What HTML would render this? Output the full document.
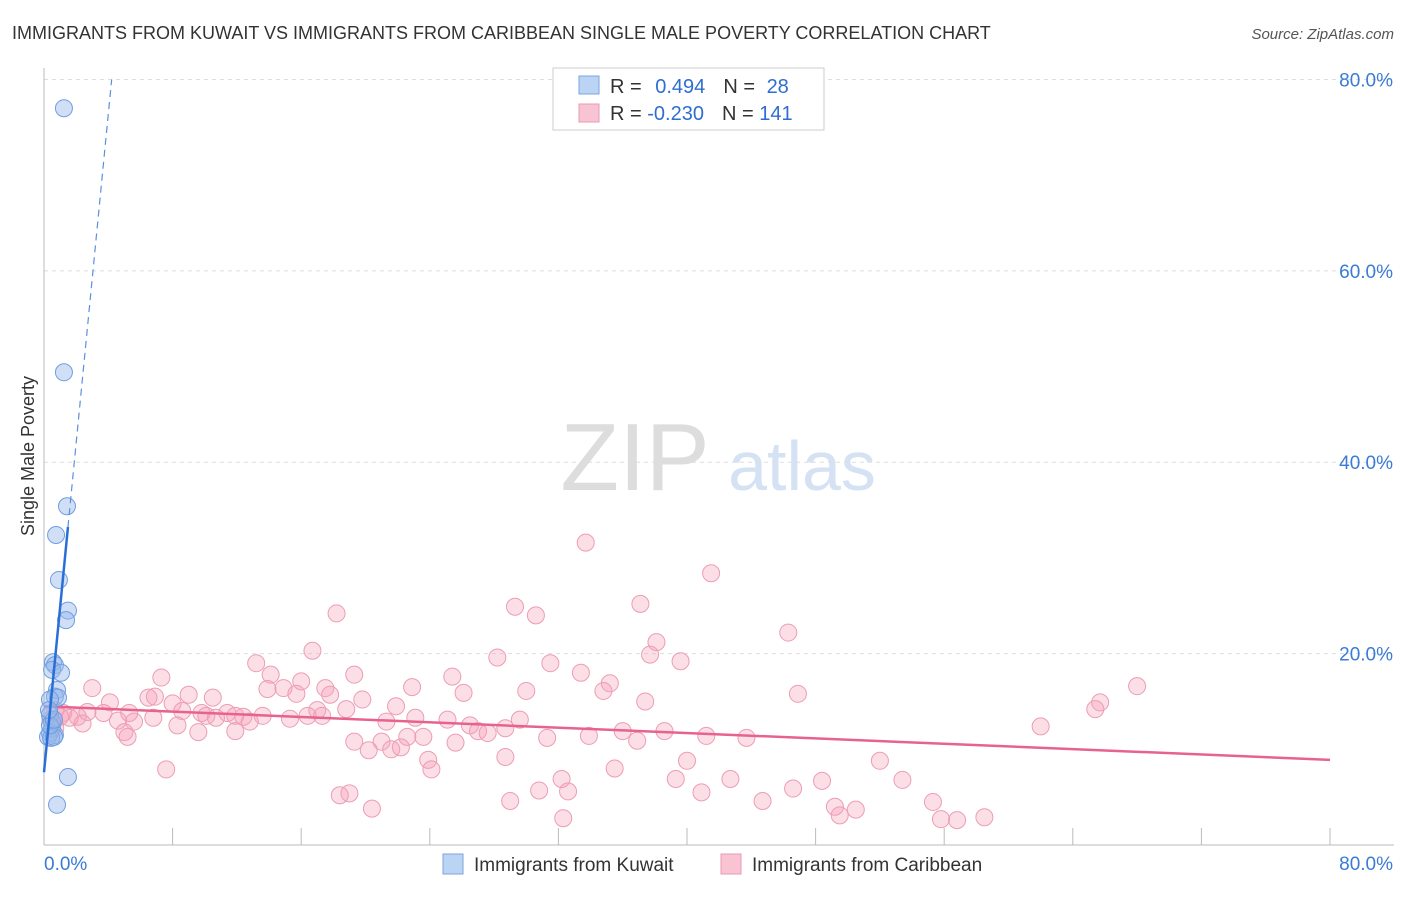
<!DOCTYPE html>
<html><head><meta charset="utf-8"><style>
body{margin:0;background:#fff;font-family:"Liberation Sans",sans-serif}
svg text{font-family:"Liberation Sans",sans-serif}
</style></head><body>
<svg id="c" width="1406" height="892" viewBox="0 0 1406 892">
<text x="12" y="39" font-size="18" fill="#333">IMMIGRANTS FROM KUWAIT VS IMMIGRANTS FROM CARIBBEAN SINGLE MALE POVERTY CORRELATION CHART</text>
<text x="1394" y="39" font-size="15" fill="#555" font-style="italic" text-anchor="end">Source: ZipAtlas.com</text>
<text x="635" y="490" font-size="96" fill="#ddd" font-family="Liberation Serif" text-anchor="middle">ZIP</text>
<text x="802" y="490" font-size="70" fill="#d4e2f4" text-anchor="middle">atlas</text>
<text x="34" y="456" font-size="18" fill="#333" text-anchor="middle" transform="rotate(-90 34 456)">Single Male Poverty</text>
<g id="grid"></g><g id="marks"></g>
<g>
<rect x="553" y="68" width="271" height="62" fill="#fff" stroke="#ccc"/>
<rect x="579" y="76" width="20" height="18" fill="#bcd4f4" stroke="#7aa4e0"/>
<rect x="579" y="104" width="20" height="18" fill="#f8c4d3" stroke="#eb9ab3"/>
<text x="610" y="93" font-size="20" fill="#333">R = <tspan fill="#2f6ed0" dx="8">0.494</tspan><tspan dx="18" fill="#333">N = </tspan><tspan fill="#2f6ed0" dx="6">28</tspan></text>
<text x="610" y="120" font-size="20" fill="#333">R = <tspan fill="#2f6ed0">-0.230</tspan><tspan dx="18" fill="#333">N = </tspan><tspan fill="#2f6ed0">141</tspan></text>
</g>
<g>
<rect x="443" y="854" width="20" height="20" fill="#bcd4f4" stroke="#7aa4e0"/>
<text x="474" y="871" font-size="19" fill="#333">Immigrants from Kuwait</text>
<rect x="721" y="854" width="20" height="20" fill="#f8c4d3" stroke="#eb9ab3"/>
<text x="752" y="871" font-size="19" fill="#333">Immigrants from Caribbean</text>
</g>
</svg>
<script>
const xTicks=[0,80];
const yTicks=[20,40,60,80];
const blueX=[1.24,1.24,1.43,0.75,0.93,1.49,1.37,0.56,0.68,0.5,1.06,0.81,0.68,0.87,0.37,0.37,0.5,0.5,0.37,0.68,0.25,0.44,0.62,1.49,0.81,0.37,0.62,0.31];
const blueY=[77.0,49.4,35.4,32.4,27.7,24.5,23.5,19.1,18.8,18.3,18.0,16.2,15.5,15.4,15.2,13.6,12.9,12.2,11.7,11.5,11.3,11.2,11.3,7.1,4.2,12.5,13.1,14.1];
const pinkX=[33.7,41.5,37.1,29.3,30.6,18.2,38.1,46.3,37.7,39.6,28.2,31.5,16.7,13.2,33.4,25.4,19.3,7.3,14.1,16.0,35.2,22.9,17.5,68.0,30.0,34.8,26.1,46.9,3.0,13.9,14.9,15.7,17.8,9.0,10.5,6.5,6.9,19.8,4.1,37.4,65.7,65.4,8.0,17.0,18.8,21.9,8.6,9.8,11.4,11.9,12.4,13.6,15.3,16.4,17.3,1.2,2.1,2.7,3.7,5.3,6.8,10.1,10.7,21.3,23.1,25.1,29.6,26.5,27.0,27.6,28.7,2.4,4.6,5.6,8.3,9.6,12.8,5.0,5.2,11.9,22.6,23.6,31.3,33.9,36.0,38.6,41.2,43.7,62.0,36.9,19.3,21.0,20.2,21.6,22.2,25.6,28.7,23.9,24.1,40.0,52.0,35.5,7.6,32.2,39.3,42.7,48.4,53.4,30.8,32.6,40.9,46.6,19.0,18.4,29.0,44.7,55.3,49.2,50.5,20.4,49.5,32.3,55.8,56.8,58.5,0.7,0.4,0.7,1.0,1.6];
const pinkY=[31.6,28.4,25.2,24.9,24.0,24.2,21.2,22.2,19.9,19.2,19.6,19.0,20.3,19.0,18.0,17.6,17.8,17.5,17.8,17.1,16.9,16.5,16.4,16.6,16.1,16.1,15.9,15.8,16.4,16.3,16.4,15.8,15.7,15.7,15.4,15.4,15.5,15.2,14.9,15.0,14.9,14.2,14.8,14.1,14.2,14.5,14.0,13.8,13.8,13.5,13.4,13.5,13.2,13.5,13.5,13.8,13.4,13.9,13.8,13.8,13.3,13.5,13.3,12.9,13.3,13.1,13.1,12.5,11.9,11.7,12.2,12.7,13.0,12.9,12.5,11.8,12.9,11.8,11.3,11.9,11.3,11.3,11.2,11.4,11.9,11.9,11.4,11.2,12.4,10.9,10.8,10.8,9.9,10.0,10.2,10.7,9.2,8.9,7.9,8.8,8.8,8.0,7.9,6.9,6.9,6.9,6.7,6.8,5.7,5.6,5.5,5.9,5.4,5.2,4.6,4.6,4.5,4.0,3.7,3.8,3.1,2.8,2.7,2.6,2.9,14.1,13.1,12.2,13.4,13.3];
const pinkTrend=[14.5,8.9];
const blueTrend=[7.6,17.2];
const X=v=>44+v*16.075, Y=v=>845-v*9.5688;
const NS='http://www.w3.org/2000/svg';
function mk(t,a,p){const e=document.createElementNS(NS,t);for(const k in a)e.setAttribute(k,a[k]);p.appendChild(e);return e;}
const g=document.getElementById('grid'), m=document.getElementById('marks');
for(const t of yTicks){
 const l=mk('line',{x1:44,x2:1394,y1:Y(t),y2:Y(t),stroke:'#ddd','stroke-dasharray':'4,4'},g);
 
 
 const tx=mk('text',{x:1393,y:Y(t)+7,'font-size':19,fill:'#3a7bd5','text-anchor':'end'},g);
 tx.textContent=t.toFixed(1)+'%';
 
 
}
const ax=mk('line',{x1:44,x2:44,y1:68,y2:845,stroke:'#bbb'},g);


const bx=mk('line',{x1:44,x2:1394,y1:845,y2:845,stroke:'#bbb'},g);


for(let i=1;i<=10;i++){const v=i*8;const tk=mk('line',{x1:X(v),x2:X(v),y1:828,y2:845,stroke:'#bbb'},g);
 
 }
xTicks.forEach((t,i)=>{const tx=mk('text',{x:i?1393:44,y:870,'font-size':19,fill:'#3a7bd5','text-anchor':i?'end':'start'},g);
 tx.textContent=t.toFixed(1)+'%';
 
 });
pinkX.forEach((x,i)=>{const c=mk('circle',{cx:X(x),cy:Y(pinkY[i]),r:8.5,fill:'rgba(245,160,185,0.35)',stroke:'#ec9db4','stroke-width':1},m);
 
 });
const pl=mk('line',{x1:X(0),y1:Y(pinkTrend[0]),x2:X(80),y2:Y(pinkTrend[1]),stroke:'#e8628f','stroke-width':2.5},m);


blueX.forEach((x,i)=>{const c=mk('circle',{cx:X(x),cy:Y(blueY[i]),r:8.5,fill:'rgba(150,185,235,0.45)',stroke:'#6f9fe0','stroke-width':1},m);
 
 });
const bmax=Math.max(...blueX), xEnd=(80-blueTrend[0])/blueTrend[1];
const bl=mk('line',{x1:X(0),y1:Y(blueTrend[0]),x2:X(bmax),y2:Y(blueTrend[0]+blueTrend[1]*bmax),stroke:'#2a6fd6','stroke-width':2.5},m);


const bd=mk('line',{x1:X(bmax),y1:Y(blueTrend[0]+blueTrend[1]*bmax),x2:X(xEnd),y2:Y(80),stroke:'#5a90dc','stroke-width':1.2,'stroke-dasharray':'7,5'},m);


</script>
</body></html>
